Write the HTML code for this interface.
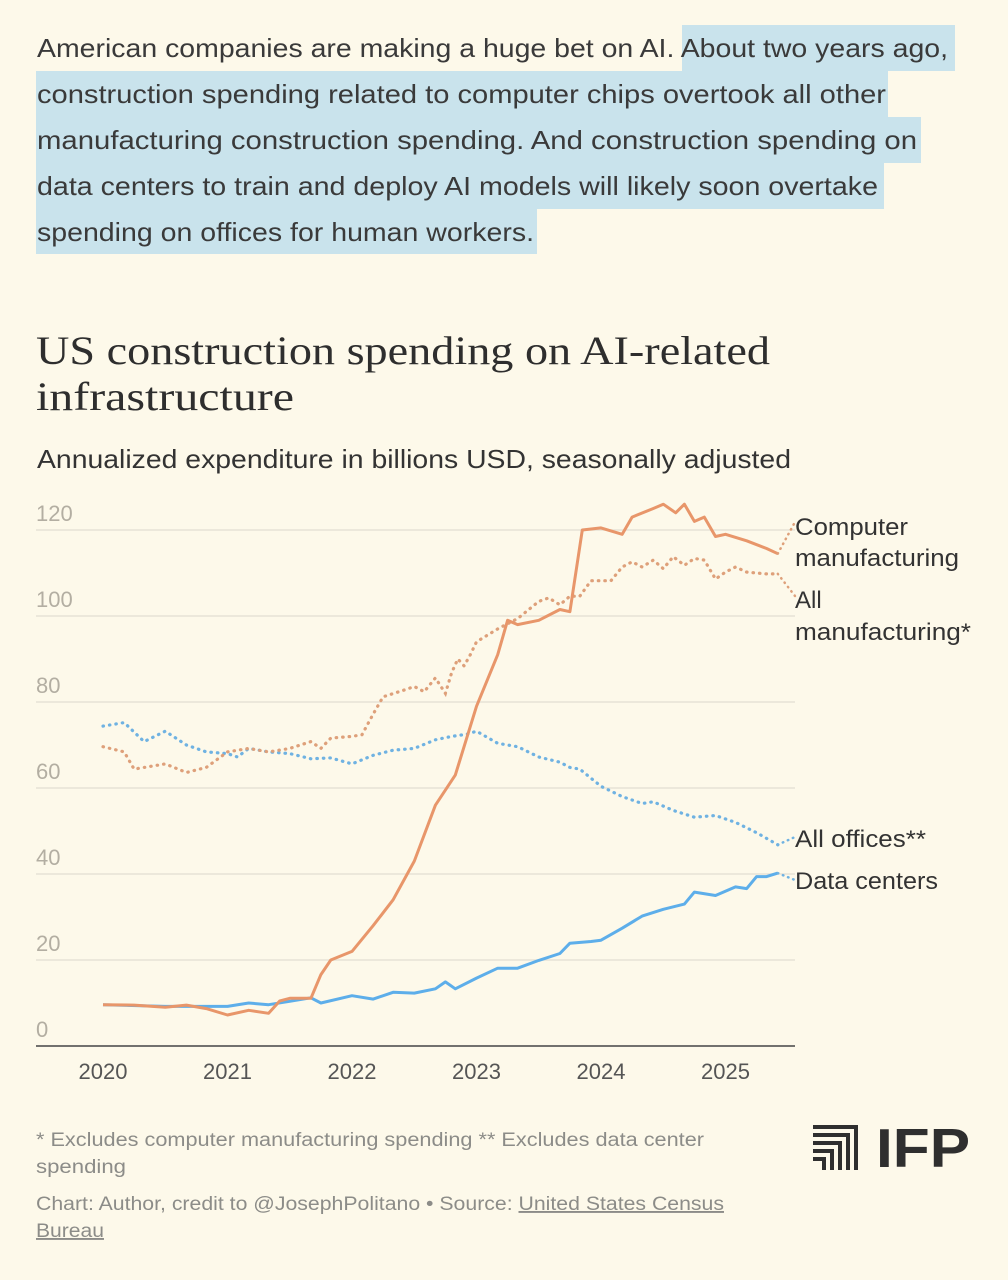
<!DOCTYPE html>
<html><head><meta charset="utf-8"><style>
html,body{margin:0;padding:0;background:#fdf9ea;}
svg{display:block;}
</style></head><body>
<svg id="page" width="1008" height="1280" viewBox="0 0 1008 1280" xmlns="http://www.w3.org/2000/svg" font-family="Liberation Sans, sans-serif">
<rect x="0" y="0" width="1008" height="1280" fill="#fdf9ea"/>
<g fill="#3a3a3a" font-size="26">
  <rect x="682" y="25" width="273" height="46" fill="#c9e3ec"/>
  <rect x="36" y="71" width="852" height="46" fill="#c9e3ec"/>
  <rect x="36" y="117" width="885" height="46" fill="#c9e3ec"/>
  <rect x="36" y="163" width="848" height="46" fill="#c9e3ec"/>
  <rect x="36" y="209" width="501" height="45" fill="#c9e3ec"/>
  <text x="37" y="57" textLength="911" lengthAdjust="spacingAndGlyphs">American companies are making a huge bet on AI. About two years ago,</text>
  <text x="37" y="103" textLength="849" lengthAdjust="spacingAndGlyphs">construction spending related to computer chips overtook all other</text>
  <text x="37" y="149" textLength="880" lengthAdjust="spacingAndGlyphs">manufacturing construction spending. And construction spending on</text>
  <text x="37" y="195" textLength="841" lengthAdjust="spacingAndGlyphs">data centers to train and deploy AI models will likely soon overtake</text>
  <text x="37" y="241" textLength="497" lengthAdjust="spacingAndGlyphs">spending on offices for human workers.</text>
</g>
<g fill="#2e2e2e" font-family="Liberation Serif, serif" font-size="40">
  <text x="36" y="364" textLength="734" lengthAdjust="spacingAndGlyphs">US construction spending on AI-related</text>
  <text x="36" y="410" textLength="258" lengthAdjust="spacingAndGlyphs">infrastructure</text>
</g>
<text x="37" y="468" font-size="26" fill="#333" textLength="754" lengthAdjust="spacingAndGlyphs">Annualized expenditure in billions USD, seasonally adjusted</text>
<g id="grid"></g>
<g id="yticks"></g>
<g id="xticks"></g>
<line x1="36" y1="1046" x2="795" y2="1046" stroke="#444" stroke-width="1.5"/>
<g id="series"></g>
<g font-size="24" fill="#333">
  <text x="795" y="535" textLength="113" lengthAdjust="spacingAndGlyphs">Computer</text>
  <text x="795" y="566" textLength="164" lengthAdjust="spacingAndGlyphs">manufacturing</text>
  <text x="795" y="608">All</text>
  <text x="795" y="640" textLength="176" lengthAdjust="spacingAndGlyphs">manufacturing*</text>
  <text x="795" y="847" textLength="131" lengthAdjust="spacingAndGlyphs">All offices**</text>
  <text x="795" y="889" textLength="143" lengthAdjust="spacingAndGlyphs">Data centers</text>
</g>
<g font-size="19" fill="#8c8c88">
  <text x="36" y="1146" textLength="668" lengthAdjust="spacingAndGlyphs">* Excludes computer manufacturing spending ** Excludes data center</text>
  <text x="36" y="1173" textLength="90" lengthAdjust="spacingAndGlyphs">spending</text>
  <text x="36" y="1210" textLength="688" lengthAdjust="spacingAndGlyphs">Chart: Author, credit to @JosephPolitano • Source: <tspan text-decoration="underline">United States Census</tspan></text>
  <text x="36" y="1237" textLength="68" lengthAdjust="spacingAndGlyphs"><tspan text-decoration="underline">Bureau</tspan></text>
</g>
<g fill="#2f2f2f">
  <path d="M813 1125h45v45h-4v-41h-41z"/>
  <path d="M813 1133h37v37h-4v-33h-33z"/>
  <path d="M813 1141h29v29h-4v-25h-25z"/>
  <path d="M813 1149h21v21h-4v-17h-17z"/>
  <path d="M813 1157h13v13h-4v-9h-9z"/>
  <text x="876" y="1167" font-size="55" font-weight="bold" textLength="94" lengthAdjust="spacingAndGlyphs">IFP</text>
</g>
</svg>
<script>
const yTicks = [0,20,40,60,80,100,120];
const xTicks = [2020,2021,2022,2023,2024,2025];
const cmDates = [2020.0,2020.25,2020.5,2020.67,2020.83,2021.0,2021.17,2021.33,2021.42,2021.5,2021.67,2021.75,2021.83,2022.0,2022.17,2022.33,2022.5,2022.67,2022.83,2023.0,2023.17,2023.25,2023.33,2023.5,2023.67,2023.75,2023.85,2024.0,2024.17,2024.25,2024.42,2024.5,2024.6,2024.67,2024.75,2024.83,2024.92,2025.0,2025.17,2025.33,2025.42];
const cmValues = [9.6,9.5,9,9.5,8.7,7.2,8.3,7.6,10.5,11.1,11.1,16.6,20,22,28,34,43,56,63,79,91,99,98,99,101.5,101,120,120.5,119,123,125,126,124,126,122,123,118.5,119,117.5,115.7,114.5];
const dcDates = [2020.0,2020.5,2021.0,2021.17,2021.33,2021.5,2021.67,2021.75,2022.0,2022.17,2022.33,2022.5,2022.67,2022.75,2022.83,2023.0,2023.17,2023.33,2023.5,2023.67,2023.75,2023.92,2024.0,2024.17,2024.33,2024.5,2024.67,2024.75,2024.92,2025.08,2025.17,2025.25,2025.33,2025.42];
const dcValues = [9.6,9.2,9.2,10,9.6,10.4,11.2,10,11.7,10.9,12.5,12.3,13.3,14.9,13.3,15.8,18.1,18.1,19.9,21.5,23.9,24.3,24.6,27.4,30.2,31.8,33,35.8,35,37,36.6,39.4,39.4,40.2];
const amDates = [2020.0,2020.17,2020.25,2020.5,2020.67,2020.83,2021.0,2021.17,2021.33,2021.5,2021.67,2021.75,2021.83,2022.0,2022.08,2022.17,2022.25,2022.42,2022.5,2022.58,2022.67,2022.75,2022.8,2022.85,2022.9,2022.95,2023.0,2023.17,2023.33,2023.5,2023.58,2023.67,2023.75,2023.83,2023.92,2024.0,2024.08,2024.17,2024.25,2024.33,2024.42,2024.5,2024.58,2024.67,2024.75,2024.83,2024.92,2025.0,2025.08,2025.17,2025.33,2025.42];
const amValues = [69.6,68.4,64.4,65.6,63.6,64.8,68.4,69.2,68.4,69.2,70.8,69.2,71.6,72,72.4,77.2,81.2,82.8,83.6,82.4,85.6,82,86.8,90,88.4,91,94,97,99.4,103.4,104.2,102.6,104.6,104.6,108.2,108.2,108.2,111.4,112.6,111.4,113,111,113.8,111.8,113.4,113,108.6,110.2,111.4,110.2,109.8,109.8];
const aoDates = [2020.0,2020.17,2020.33,2020.5,2020.67,2020.83,2021.0,2021.08,2021.17,2021.33,2021.5,2021.67,2021.83,2022.0,2022.17,2022.33,2022.5,2022.67,2022.8,2022.92,2023.0,2023.17,2023.33,2023.5,2023.67,2023.75,2023.83,2024.0,2024.17,2024.33,2024.42,2024.58,2024.75,2024.92,2025.08,2025.25,2025.42];
const aoValues = [74.4,75.2,70.8,73.2,70,68.4,68,67.2,69.2,68.4,68,66.8,67,65.6,67.6,68.8,69.2,71.2,72,72.5,73.2,70.4,69.6,67.2,66,64.8,64.4,60.4,58,56.4,56.8,54.8,53.2,53.6,52,49.6,46.8];

const NS = 'http://www.w3.org/2000/svg';
function xS(t){ return 103 + (t - 2020) * 124.5; }
function yS(v){ return 1046 - v * 4.3; }
function mk(tag, attrs, parent){ const e = document.createElementNS(NS, tag); for (const k in attrs) e.setAttribute(k, attrs[k]); parent.appendChild(e); return e; }

const grid = document.getElementById('grid');
const yt = document.getElementById('yticks');
yTicks.forEach(v => {
  if (v > 0) {
    const l = mk('line', {x1: 36, x2: 795, y1: yS(v), y2: yS(v), stroke: '#e6e2d6', 'stroke-width': 1.5}, grid);
    
    
  }
  const t = mk('text', {x: 36, y: yS(v) - 9, 'font-size': 22, fill: '#b3aea2'}, yt);
  t.textContent = v;
  
  
});
const xt = document.getElementById('xticks');
xTicks.forEach(y => {
  const t = mk('text', {x: xS(y), y: 1079, 'font-size': 22, fill: '#555', 'text-anchor': 'middle'}, xt);
  t.textContent = y;
  
  
});

const sg = document.getElementById('series');
function pts(d, v){ return d.map((t, i) => xS(t).toFixed(1) + ',' + yS(v[i]).toFixed(1)).join(' '); }
function leader(d, v, ty, color){
  const n = d.length - 1;
  const l = mk('line', {x1: xS(d[n]), y1: yS(v[n]), x2: 795, y2: ty, stroke: color, 'stroke-width': 2.5, 'stroke-dasharray': '0.5 5', 'stroke-linecap': 'round'}, sg);
  
  
}
let p;
p = mk('polyline', {points: pts(aoDates, aoValues), fill: 'none', stroke: '#6fb2e2', 'stroke-width': 3.2, 'stroke-dasharray': '0.5 6', 'stroke-linecap': 'round'}, sg);


p = mk('polyline', {points: pts(amDates, amValues), fill: 'none', stroke: '#dea07a', 'stroke-width': 3.2, 'stroke-dasharray': '0.5 6', 'stroke-linecap': 'round'}, sg);


p = mk('polyline', {points: pts(dcDates, dcValues), fill: 'none', stroke: '#5daeea', 'stroke-width': 3, 'stroke-linejoin': 'round'}, sg);


p = mk('polyline', {points: pts(cmDates, cmValues), fill: 'none', stroke: '#e8966a', 'stroke-width': 3, 'stroke-linejoin': 'round'}, sg);


leader(cmDates, cmValues, 522, '#dea07a');
leader(amDates, amValues, 596, '#dea07a');
leader(aoDates, aoValues, 837, '#6fb2e2');
leader(dcDates, dcValues, 880, '#6fb2e2');
</script>
</body></html>
